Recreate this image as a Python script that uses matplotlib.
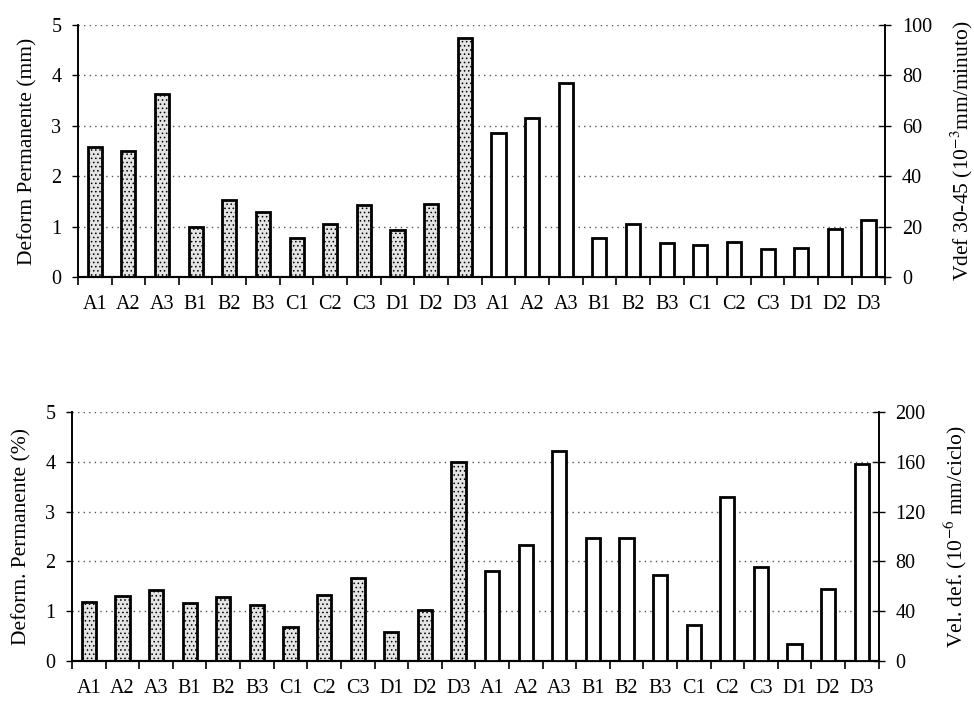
import numpy as np
import matplotlib
matplotlib.use('Agg')
import matplotlib.pyplot as plt

plt.rcParams['font.family'] = ['Liberation Serif', 'DejaVu Serif']
plt.rcParams['mathtext.fontset'] = 'stix'
plt.rcParams['hatch.color'] = '#777777'
plt.rcParams['hatch.linewidth'] = 0.6

labels = ['A1', 'A2', 'A3', 'B1', 'B2', 'B3', 'C1', 'C2', 'C3', 'D1', 'D2', 'D3']

# top chart
deform_mm = [2.57, 2.50, 3.62, 1.00, 1.52, 1.29, 0.77, 1.06, 1.42, 0.93, 1.45, 4.73]
vdef_30_45 = [57.3, 62.9, 77.0, 15.5, 21.0, 13.5, 12.8, 14.0, 11.3, 11.7, 19.0, 22.6]

# bottom chart
deform_pct = [1.19, 1.30, 1.42, 1.17, 1.28, 1.12, 0.68, 1.32, 1.66, 0.58, 1.02, 4.00]
vel_def = [72, 93.5, 168.5, 98.7, 98.7, 69, 29.3, 132, 75.3, 13.5, 58, 158]


def draw(rect, left_vals, right_vals, left_label, right_label, right_max, right_step):
    ax = fig.add_axes(rect)
    ax2 = ax.twinx()
    n = len(left_vals)
    x1 = np.arange(n)
    x2 = np.arange(n, 2 * n)
    ax.bar(x1, left_vals, width=0.42, facecolor='#e4e4e4', edgecolor='black',
           linewidth=2, hatch='....', zorder=3)
    ax2.bar(x2, right_vals, width=0.42, facecolor='white', edgecolor='black',
            linewidth=2, zorder=3)
    ax.set_xlim(-0.5, 2 * n - 0.5)
    ax.set_ylim(0, 5)
    ax2.set_ylim(0, right_max)
    ax.set_yticks(range(6))
    ax2.set_yticks(np.arange(0, right_max + 1, right_step))
    ax.grid(axis='y', linestyle=(0, (1, 3)), color='#555555', linewidth=1.0, zorder=0)
    ax.set_xticks(np.arange(2 * n))
    ax.set_xticklabels(labels + labels)
    ax.set_xticks(np.arange(-0.5, 2 * n), minor=True)
    ax.tick_params(axis='x', which='major', length=0, pad=13, labelsize=14.5)
    ax.tick_params(axis='x', which='minor', length=6, width=1.2, direction='out')
    ax.tick_params(axis='y', length=4, width=1, direction='out', labelsize=14.5, pad=8)
    ax2.tick_params(axis='y', length=8, width=1, direction='inout', labelsize=14.5, pad=8)
    for a in (ax, ax2):
        a.spines['top'].set_visible(False)
        a.spines['left'].set_linewidth(1.2)
        a.spines['right'].set_linewidth(1.2)
        a.spines['bottom'].set_linewidth(1.5)
    ax.set_ylabel(left_label, fontsize=15.5, labelpad=10)
    ax2.set_ylabel(right_label, fontsize=15.5, labelpad=12)
    return ax, ax2


fig = plt.figure(figsize=(9.74, 7.07), dpi=100)

draw([0.080, 0.608, 0.829, 0.357], deform_mm, vdef_30_45,
     'Deform Permanente (mm)', 'Vdef 30-45 (10$^{-3}$mm/minuto)', 100, 20)
draw([0.074, 0.065, 0.828, 0.352], deform_pct, vel_def,
     'Deform. Permanente (%)', 'Vel. def. (10$^{-6}$ mm/ciclo)', 200, 40)

fig.savefig('out.png', dpi=100)
